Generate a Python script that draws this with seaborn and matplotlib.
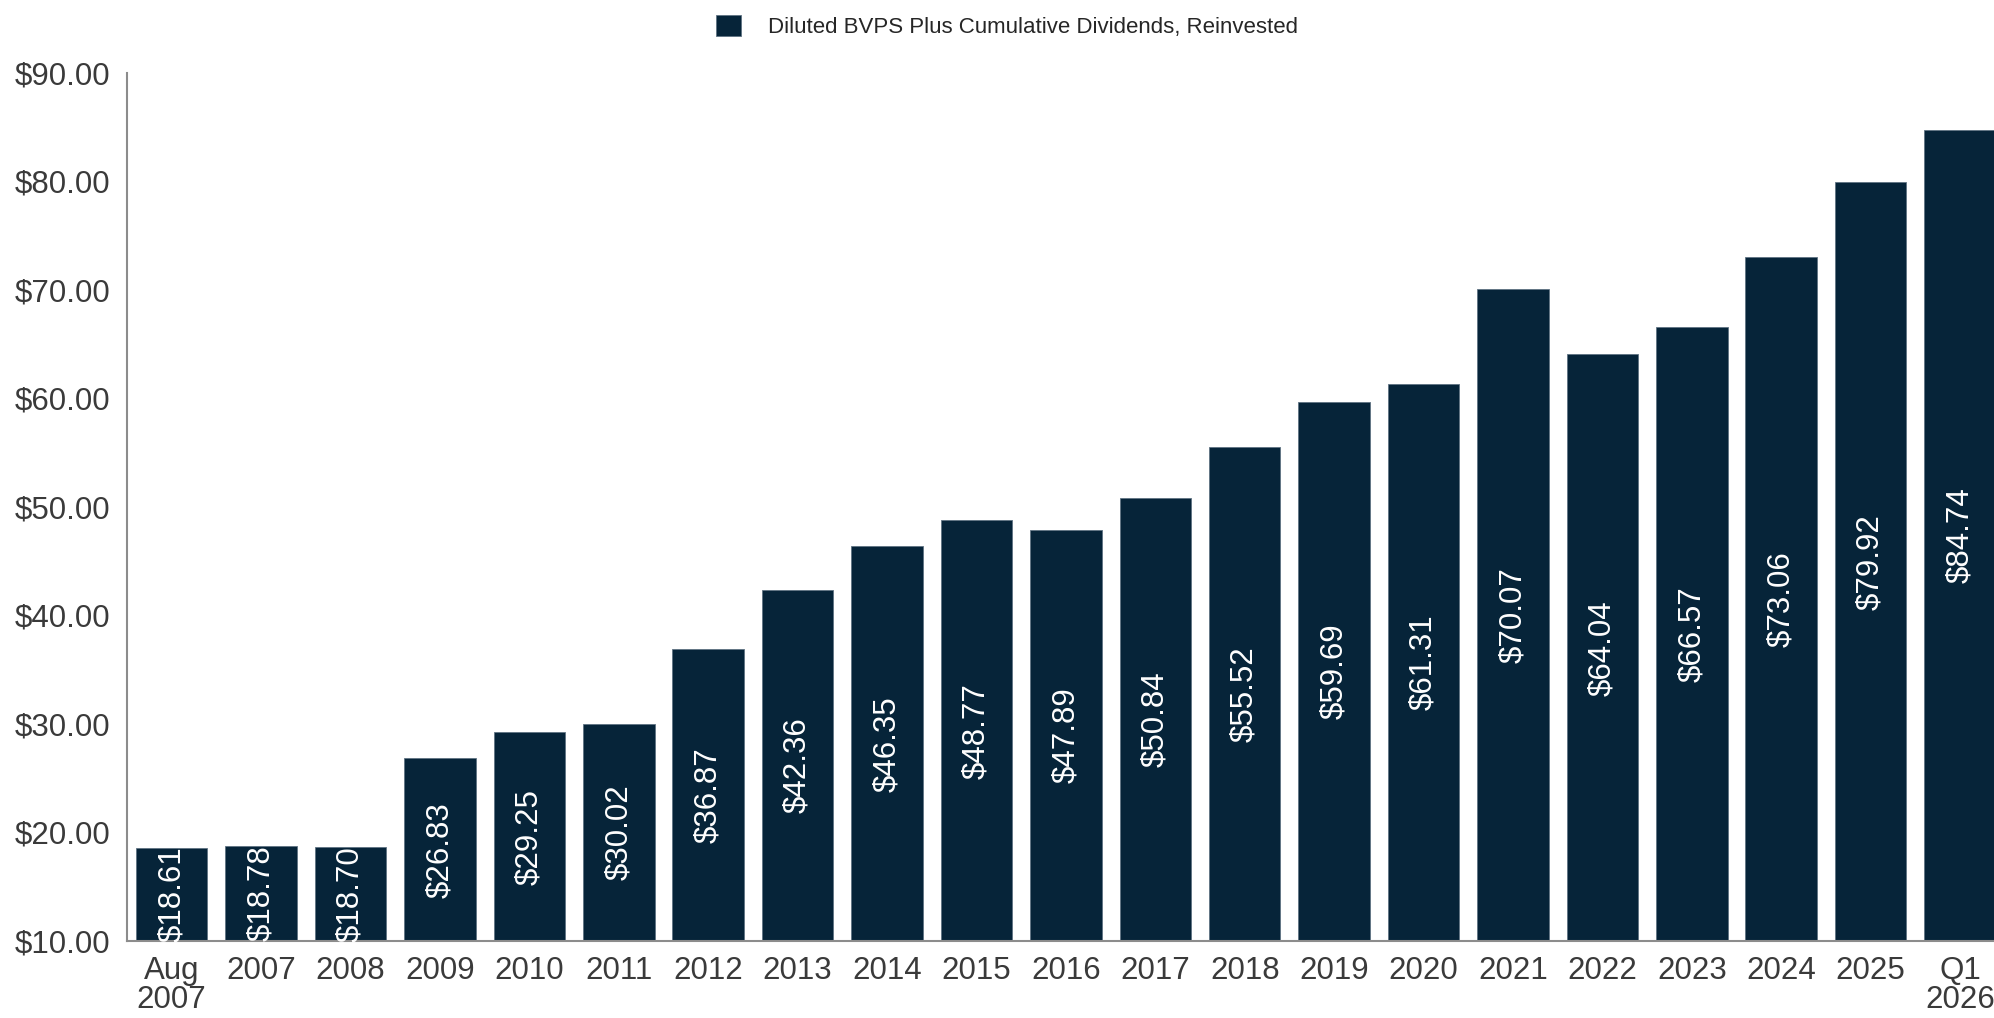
import matplotlib
matplotlib.use("Agg")
import matplotlib.pyplot as plt
import seaborn as sb


periods = ["Aug\n2007", "2007", "2008", "2009", "2010", "2011", "2012", "2013",
           "2014", "2015", "2016", "2017", "2018", "2019", "2020", "2021",
           "2022", "2023", "2024", "2025", "Q1\n2026"]
bvps = [18.61, 18.78, 18.70, 26.83, 29.25, 30.02, 36.87, 42.36, 46.35, 48.77,
        47.89, 50.84, 55.52, 59.69, 61.31, 70.07, 64.04, 66.57, 73.06, 79.92,
        84.74]
y_ticks = [10, 20, 30, 40, 50, 60, 70, 80, 90]
series_name = "Diluted BVPS Plus Cumulative Dividends, Reinvested"

navy = "#062439"
axis_grey = "#8c8c8c"
text_grey = "#3a3a3a"


def main():
    sb.set_style("white")
    plt.rcParams["font.family"] = ["Liberation Sans", "DejaVu Sans"]

    fig = plt.figure(figsize=(19.94, 10.18), dpi=100)
    ax = fig.add_axes([0.0637, 0.0756, 0.9363, 0.853])

    sb.barplot(x=periods, y=bvps, color=navy, saturation=1, width=0.8,
               edgecolor="#5f7283", linewidth=0.6, label=series_name, ax=ax)

    ax.set_ylim(y_ticks[0], y_ticks[-1])
    ax.set_xlim(-0.5, 20.38)
    ax.set_yticks(y_ticks)
    ax.set_yticklabels([f"${t:.2f}" for t in y_ticks])

    # labels sit in the middle of the visible part of each bar
    for i, v in enumerate(bvps):
        ax.text(i, (v + y_ticks[0]) / 2, f"${v:.2f}", rotation=90,
                ha="center", va="center", color="white", fontsize=22.5)

    for side in ["top", "right"]:
        ax.spines[side].set_visible(False)
    for side in ["left", "bottom"]:
        ax.spines[side].set_color(axis_grey)
        ax.spines[side].set_linewidth(1.5)

    ax.tick_params(axis="both", length=0, labelsize=22.5, colors=text_grey)
    ax.tick_params(axis="y", pad=12)
    ax.tick_params(axis="x", pad=11)
    for lbl in ax.get_xticklabels():
        lbl.set_linespacing(0.95)
    ax.set_xlabel(None)
    ax.set_ylabel(None)
    ax.grid(False)

    ax.legend(loc="upper center", bbox_to_anchor=(0.505, 1.005),
              bbox_transform=fig.transFigure, frameon=False, fontsize=16,
              handlelength=1.1, handleheight=1.1, handletextpad=1.2)

    fig.savefig("out.png", dpi=100)


if __name__ == "__main__":
    main()
